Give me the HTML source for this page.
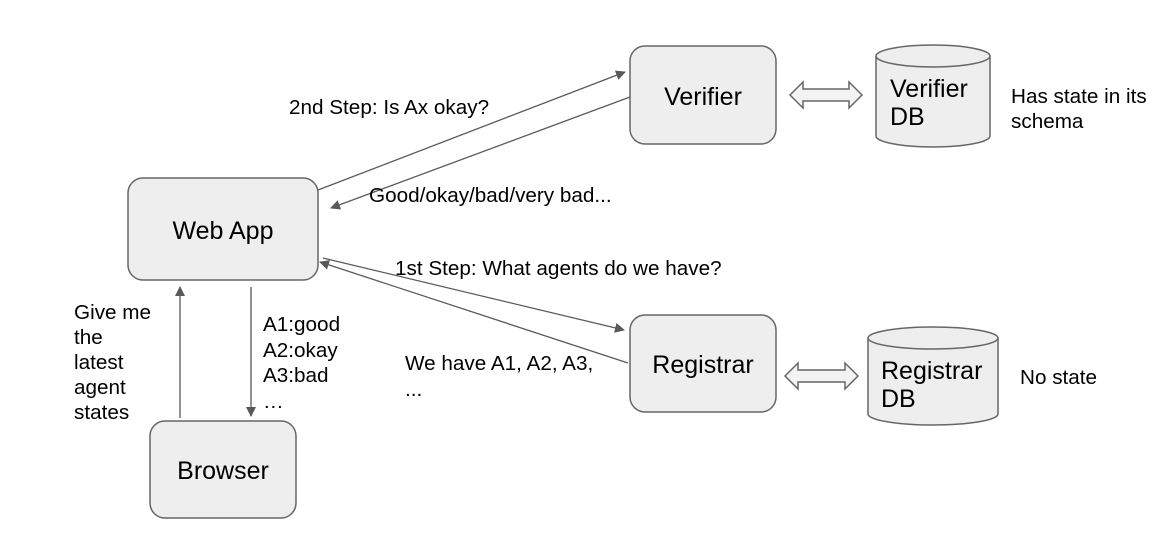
<!DOCTYPE html>
<html><head><style>body{margin:0;background:#fff}</style></head><body>
<svg width="1166" height="555" xmlns="http://www.w3.org/2000/svg" font-family="Liberation Sans, sans-serif">
<defs><marker id="a" markerWidth="10" markerHeight="10" refX="9" refY="5" orient="auto" markerUnits="userSpaceOnUse"><path d="M0,0 L10,5 L0,10 z" fill="#595959"/></marker></defs>
<g fill="#eeeeee" stroke="#666" stroke-width="1.5">
<rect x="128" y="178" width="190" height="102" rx="15"/>
<rect x="630" y="46" width="146" height="98" rx="15"/>
<rect x="630" y="315" width="146" height="97" rx="15"/>
<rect x="150" y="421" width="146" height="97" rx="15"/>
<path d="M876,56 v80 a57,11 0 0 0 114,0 v-80"/>
<ellipse cx="933" cy="56" rx="57" ry="11"/>
<path d="M868,338 v76 a65,11 0 0 0 130,0 v-76"/>
<ellipse cx="933" cy="338" rx="65" ry="11"/>
<path d="M790,95 l13,-13 v7 h46 v-7 l13,13 l-13,13 v-7 h-46 v7 z" fill="#f3f3f3"/>
<path d="M785,376 l13,-13 v7 h47 v-7 l13,13 l-13,13 v-7 h-47 v7 z" fill="#f3f3f3"/>
</g>
<g stroke="#595959" stroke-width="1.3" marker-end="url(#a)">
<line x1="318" y1="190" x2="625" y2="72"/>
<line x1="630" y1="97" x2="331" y2="208"/>
<line x1="323" y1="258" x2="624" y2="330"/>
<line x1="628" y1="363" x2="320" y2="262"/>
<line x1="180" y1="418" x2="180" y2="287"/>
<line x1="251" y1="287" x2="251" y2="416"/>
</g>
<g font-size="25" fill="#000">
<text x="223" y="239" text-anchor="middle">Web App</text>
<text x="703" y="105" text-anchor="middle">Verifier</text>
<text x="703" y="373" text-anchor="middle">Registrar</text>
<text x="223" y="479" text-anchor="middle">Browser</text>
<text x="890" y="97">Verifier</text><text x="890" y="125">DB</text>
<text x="881" y="379">Registrar</text><text x="881" y="407">DB</text>
</g>
<g font-size="20.7" fill="#000">
<text x="1011" y="103">Has state in its</text><text x="1011" y="128">schema</text>
<text x="1020" y="384">No state</text>
<text x="289" y="114">2nd Step: Is Ax okay?</text>
<text x="369" y="202">Good/okay/bad/very bad...</text>
<text x="395" y="275">1st Step: What agents do we have?</text>
<text x="405" y="370">We have A1, A2, A3,</text><text x="405" y="396">...</text>
<text x="74" y="319">Give me</text><text x="74" y="344">the</text><text x="74" y="369">latest</text><text x="74" y="394">agent</text><text x="74" y="419">states</text>
<text x="263" y="331">A1:good</text><text x="263" y="357">A2:okay</text><text x="263" y="382">A3:bad</text><text x="263" y="408">…</text>
</g>
</svg>
</body></html>
